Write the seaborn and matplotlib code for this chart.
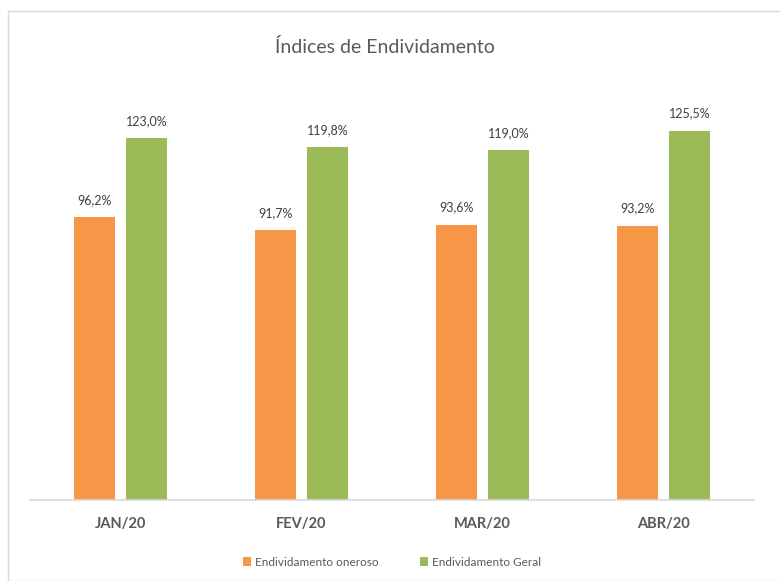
import matplotlib
matplotlib.use("Agg")
import matplotlib.pyplot as plt
from matplotlib.patches import Rectangle
import pandas as pd
import seaborn as sns

# Dados do grafico
MESES = ["JAN/20", "FEV/20", "MAR/20", "ABR/20"]
SERIES = ["Endividamento oneroso", "Endividamento Geral"]
ONEROSO = [96.2, 91.7, 93.6, 93.2]
GERAL = [123.0, 119.8, 119.0, 125.5]

CORES = ["#F79646", "#9BBB59"]

sns.set_theme(style="white")
plt.rcParams["font.family"] = ["Lato", "DejaVu Sans"]

dados = pd.DataFrame({
    "mes": MESES * 2,
    "serie": [SERIES[0]] * len(MESES) + [SERIES[1]] * len(MESES),
    "valor": ONEROSO + GERAL,
})

fig = plt.figure(figsize=(7.8, 5.81), dpi=100)
ax = fig.add_axes([30 / 780, 81 / 581, 724 / 780, 412 / 581])

sns.barplot(data=dados, x="mes", y="valor", hue="serie", order=MESES,
            hue_order=SERIES, palette=CORES, width=0.57, gap=0.2,
            saturation=1, linewidth=0, legend=True, ax=ax)

for cont in ax.containers:
    ax.bar_label(cont, labels=[f"{v:.1f}%".replace(".", ",") for v in cont.datavalues],
                 padding=8, fontsize=9, color="#404040")

ax.set_ylim(0, 140)
ax.set_xlim(-0.5, 3.5)
ax.set_yticks([])
ax.set_xlabel("")
ax.set_ylabel("")
for lado in ["top", "left", "right"]:
    ax.spines[lado].set_visible(False)
ax.spines["bottom"].set_color("#D9D9D9")
ax.spines["bottom"].set_linewidth(1.2)
ax.tick_params(axis="x", length=0, pad=12)
for rotulo in ax.get_xticklabels():
    rotulo.set_fontweight("bold")
    rotulo.set_fontsize(10.5)
    rotulo.set_color("#595959")

ax.legend(loc="center", bbox_to_anchor=(0.5, -62 / 412), ncol=2, frameon=False,
          fontsize=8.5, handlelength=0.7, handleheight=0.7, handletextpad=0.3,
          columnspacing=3.5, labelcolor="#595959")

fig.text(385 / 780, 1 - 47 / 581, "Índices de Endividamento", ha="center", va="center",
         fontsize=14, color="#595959")

fig.patches.append(Rectangle((8 / 780, 0), 1, 1 - 11 / 581, transform=fig.transFigure,
                             fill=False, edgecolor="#D9D9D9", linewidth=1.0))

fig.savefig("out.png", dpi=100)
